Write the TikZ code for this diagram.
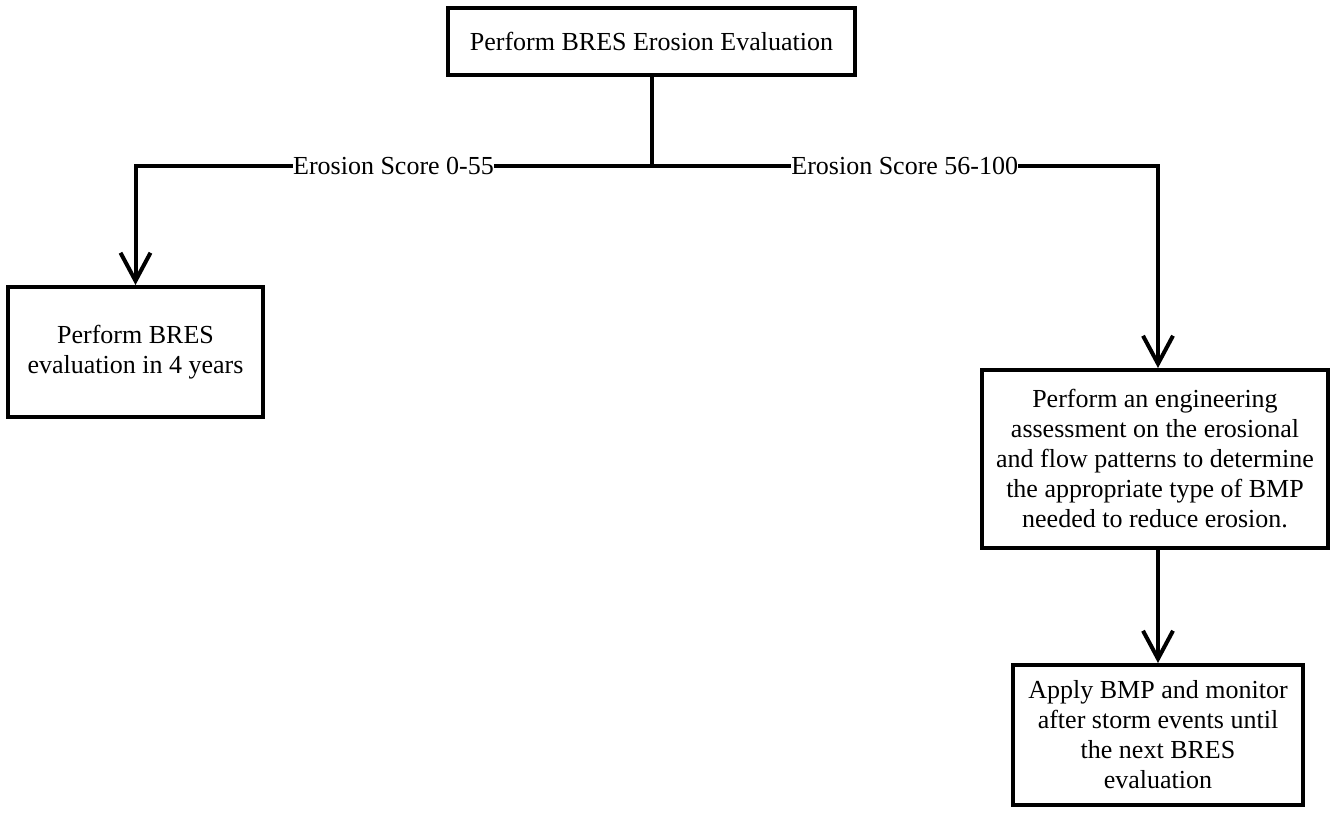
\documentclass[tikz,border=0pt]{standalone}
\usepackage{fontspec}
\setmainfont{Liberation Serif}
\usetikzlibrary{arrows.meta}
\begin{document}
\begin{tikzpicture}[x=1pt,y=-1pt,
  box/.style={draw, line width=4pt, rectangle, align=center, inner sep=2pt,
    font=\fontsize{26}{30}\selectfont},
  link/.style={line width=4pt},
  flow/.style={line width=4pt, -{Straight Barb[length=28pt,width=30pt]}},
  lbl/.style={fill=white, inner sep=0pt, font=\fontsize{26}{30}\selectfont}]
\useasboundingbox (0,0) rectangle (1331,817);

\node[box, minimum width=407pt, minimum height=67pt] (top) at (651.5,41.5)
  {Perform BRES Erosion Evaluation};
\node[box, minimum width=255pt, minimum height=130pt] (low) at (135.5,352)
  {Perform BRES\\evaluation in 4 years};
\node[box, minimum width=346pt, minimum height=178pt] (assess) at (1155,459)
  {Perform an engineering\\assessment on the erosional\\and flow patterns to determine\\the appropriate type of BMP\\needed to reduce erosion.};
\node[box, minimum width=290pt, minimum height=140pt] (apply) at (1158,735)
  {Apply BMP and monitor\\after storm events until\\the next BRES\\evaluation};

\coordinate (split) at (top.south |- 0,166);

\draw[link] (top.south) -- (split);
\draw[flow] (split) -| node[lbl, pos=0.25] {Erosion Score 0-55} (low.north);
\draw[flow] (split) -| node[lbl, pos=0.25] {Erosion Score 56-100} (assess.north -| 1158,0);
\draw[flow] (assess.south -| apply.north) -- (apply.north);
\end{tikzpicture}
\end{document}
